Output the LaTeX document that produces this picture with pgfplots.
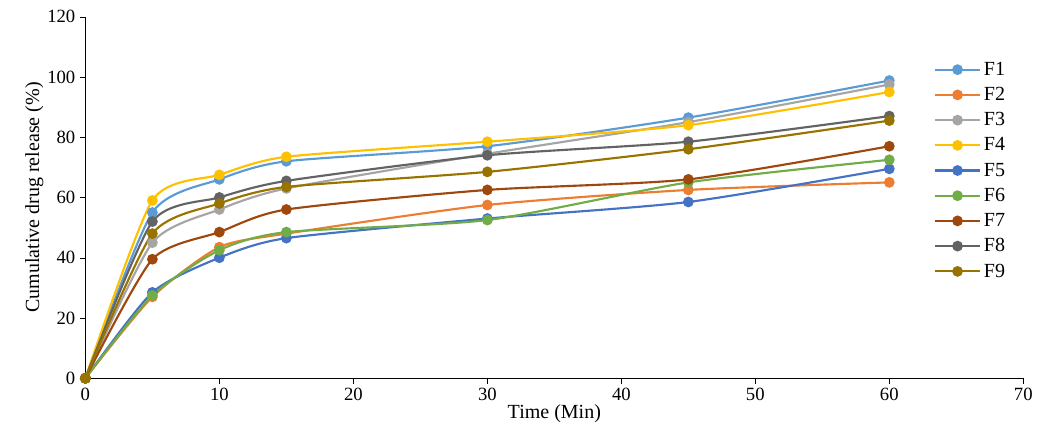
\documentclass[border=0pt]{standalone}
\usepackage{pgfplots}
\pgfplotsset{compat=1.18}
\usepackage{fontspec}
\setmainfont{Liberation Serif}
\definecolor{c1}{HTML}{5B9BD5}
\definecolor{c2}{HTML}{ED7D31}
\definecolor{c3}{HTML}{A5A5A5}
\definecolor{c4}{HTML}{FFC000}
\definecolor{c5}{HTML}{4472C4}
\definecolor{c6}{HTML}{70AD47}
\definecolor{c7}{HTML}{9E480E}
\definecolor{c8}{HTML}{636363}
\definecolor{c9}{HTML}{997300}
\begin{document}
\begin{tikzpicture}
\path[use as bounding box] (-64pt,-51pt) rectangle (726pt,283.5pt);
\begin{axis}[scale only axis, width=703pt, height=271pt,
 xmin=0,xmax=70,ymin=0,ymax=120, xtick={0,10,...,70}, ytick={0,20,...,120},
 axis x line=bottom, axis y line=left, axis line style={black,thick,-},
 tick style={black}, tick align=outside, major tick length=4pt,
 ticklabel style={font=\fontsize{14}{16}\selectfont},
 /pgf/number format/assume math mode=true,
 xlabel={Time (Min)}, ylabel={Cumulative drug release (\%)},
 label style={font=\fontsize{15}{17}\selectfont},
 xlabel style={yshift=4pt}, ylabel style={yshift=-4pt},
 legend style={draw=none, fill=none, at={(0.9,0.89)}, anchor=north west, font=\fontsize{15}{17}\selectfont, row sep=3.5pt},
 legend cell align=left,
 legend image code/.code={\draw[#1,mark=none] (0pt,0pt) -- (34pt,0pt); \draw[#1,only marks] plot coordinates {(17pt,0pt)};},
 every axis plot/.append style={line width=1.6pt, smooth, tension=0.4, mark=*, mark size=3.2pt},
]
\addplot[c1] coordinates {(0,0)(5,55)(10,66)(15,72)(30,77)(45,86.5)(60,98.8)};
\addplot[c2] coordinates {(0,0)(5,27)(10,43.5)(15,48)(30,57.5)(45,62.5)(60,65)};
\addplot[c3] coordinates {(0,0)(5,45)(10,56)(15,63)(30,74.5)(45,85)(60,97.5)};
\addplot[c4] coordinates {(0,0)(5,59)(10,67.5)(15,73.5)(30,78.5)(45,84)(60,95)};
\addplot[c5] coordinates {(0,0)(5,28.5)(10,40)(15,46.5)(30,53)(45,58.5)(60,69.5)};
\addplot[c6] coordinates {(0,0)(5,27.5)(10,42.5)(15,48.5)(30,52.5)(45,65)(60,72.5)};
\addplot[c7] coordinates {(0,0)(5,39.5)(10,48.5)(15,56)(30,62.5)(45,66)(60,77)};
\addplot[c8] coordinates {(0,0)(5,52)(10,60)(15,65.5)(30,74)(45,78.5)(60,87)};
\addplot[c9] coordinates {(0,0)(5,48)(10,58)(15,63.5)(30,68.5)(45,76)(60,85.5)};
\legend{F1,F2,F3,F4,F5,F6,F7,F8,F9}
\end{axis}
\end{tikzpicture}
\end{document}
